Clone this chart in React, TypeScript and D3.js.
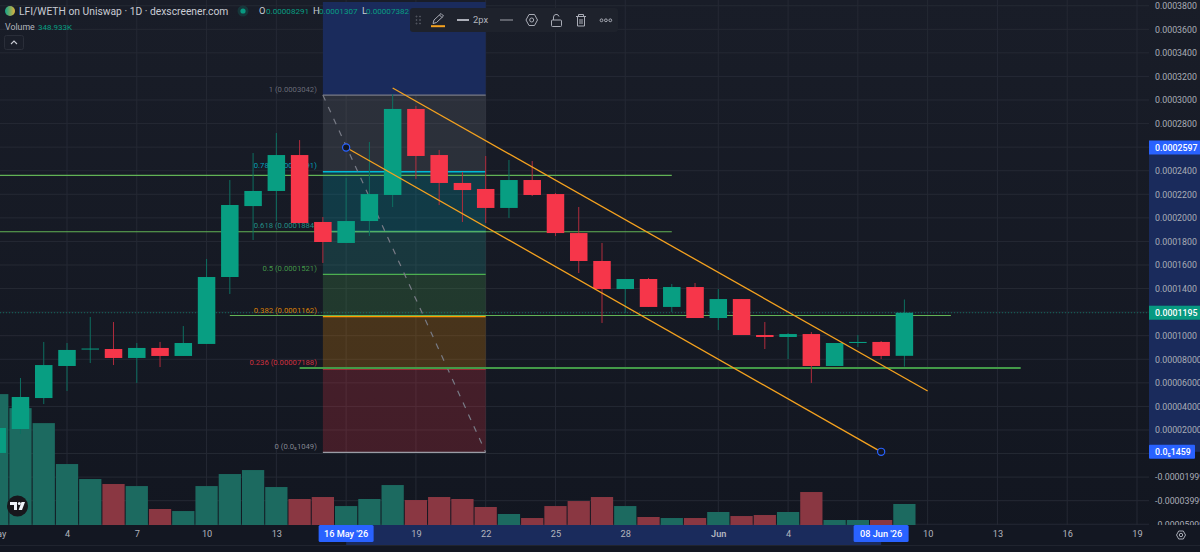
import { useRef, useEffect } from 'react'
import * as d3 from 'd3'

// prices are in units of 0.0001 WETH, volumes in K
const days = [
  '2026-05-01', '2026-05-02', '2026-05-03', '2026-05-04', '2026-05-05', '2026-05-06', '2026-05-07', '2026-05-08',
  '2026-05-09', '2026-05-10', '2026-05-11', '2026-05-12', '2026-05-13', '2026-05-14', '2026-05-15', '2026-05-16',
  '2026-05-17', '2026-05-18', '2026-05-19', '2026-05-20', '2026-05-21', '2026-05-22', '2026-05-23', '2026-05-24',
  '2026-05-25', '2026-05-26', '2026-05-27', '2026-05-28', '2026-05-29', '2026-05-30', '2026-05-31', '2026-06-01',
  '2026-06-02', '2026-06-03', '2026-06-04', '2026-06-05', '2026-06-06', '2026-06-07', '2026-06-08', '2026-06-09',
]
const opens = [
  0.005, 0.208, 0.471, 0.743, 0.887, 0.887, 0.811, 0.896, 0.828, 0.93, 1.498, 2.1, 2.228, 2.533, 1.965, 1.787,
  1.973, 2.194, 2.924, 2.533, 2.296, 2.245, 2.084, 2.321, 2.202, 1.871, 1.634, 1.396, 1.481, 1.244, 1.413, 1.15,
  1.311, 1.006, 0.989, 1.014, 0.743, 0.938, 0.947, 0.8291,
]
const highs = [
  0.24, 0.641, 0.947, 0.938, 1.159, 1.116, 0.938, 0.947, 1.082, 1.651, 2.321, 2.55, 2.72, 2.66, 2.007, 2.338,
  2.644, 3.051, 2.949, 2.576, 2.389, 2.525, 2.491, 2.482, 2.211, 2.092, 1.787, 1.481, 1.49, 1.439, 1.447, 1.396,
  1.311, 1.116, 1.023, 1.031, 0.938, 1.006, 0.955, 1.307,
]
const lows = [
  0.0, 0.166, 0.42, 0.531, 0.768, 0.751, 0.599, 0.734, 0.828, 0.93, 1.354, 1.812, 1.973, 1.956, 1.617, 1.787,
  1.846, 2.092, 2.33, 2.109, 1.965, 1.956, 1.999, 2.185, 1.846, 1.532, 1.108, 1.193, 1.244, 1.201, 1.15, 1.048,
  1.006, 0.887, 0.802, 0.599, 0.743, 0.904, 0.802, 0.7382,
]
const closes = [
  0.217, 0.48, 0.751, 0.879, 0.891, 0.811, 0.896, 0.828, 0.938, 1.498, 2.109, 2.228, 2.533, 1.956, 1.795, 1.973,
  2.202, 2.924, 2.525, 2.296, 2.236, 2.084, 2.321, 2.194, 1.871, 1.634, 1.396, 1.481, 1.244, 1.413, 1.15, 1.311,
  1.006, 0.989, 1.014, 0.743, 0.938, 0.947, 0.828, 1.195,
]
const volumes = [
  2175, 1942, 1693, 1013, 764, 681, 647, 266, 232, 647, 847, 913, 631, 432, 465, 315, 432, 664, 415, 465, 432, 299,
  183, 116, 315, 398, 465, 315, 133, 116, 116, 216, 149, 166, 216, 548, 83, 83, 83, 348.933,
]

const priceTicks = [3.8, 3.6, 3.4, 3.2, 3.0, 2.8, 2.4, 2.2, 2.0, 1.8, 1.6, 1.4, 1.0, 0.8, 0.6, 0.4, 0.2, -0.2, -0.4, -0.6]
const priceLabels = [
  '0.0003800', '0.0003600', '0.0003400', '0.0003200', '0.0003000', '0.0002800', '0.0002400', '0.0002200', '0.0002000',
  '0.0001800', '0.0001600', '0.0001400', '0.0001000', '0.00008000', '0.00006000', '0.00004000', '0.00002000',
  '-0.00001999', '-0.00003999', '-0.00005999',
]
const gridPrices = [3.8, 3.6, 3.4, 3.2, 3.0, 2.8, 2.6, 2.4, 2.2, 2.0, 1.8, 1.6, 1.4, 1.2, 1.0, 0.8, 0.6, 0.4, 0.2, 0, -0.2, -0.4, -0.6]

const gridDays = [
  '2026-05-01', '2026-05-04', '2026-05-07', '2026-05-10', '2026-05-13', '2026-05-16', '2026-05-19', '2026-05-22',
  '2026-05-25', '2026-05-28', '2026-06-01', '2026-06-04', '2026-06-07', '2026-06-10', '2026-06-13', '2026-06-16', '2026-06-19',
]
// 16 May and 7 Jun sit under the crosshair date boxes, so they are left out here
const timeTicks = [
  '2026-05-01', '2026-05-04', '2026-05-07', '2026-05-10', '2026-05-13', '2026-05-19', '2026-05-22',
  '2026-05-25', '2026-05-28', '2026-06-01', '2026-06-04', '2026-06-10', '2026-06-13', '2026-06-16', '2026-06-19',
]
const timeLabels = ['May', '4', '7', '10', '13', '19', '22', '25', '28', 'Jun', '4', '10', '13', '16', '19']

const fibRatios = ['1', '0.786', '0.618', '0.5', '0.382', '0.236', '0']
const fibPrices = [3.042, 2.391, 1.884, 1.521, 1.162, 0.7188, 0.01049]
const fibTexts = ['0.0003042', '0.0002391', '0.0001884', '0.0001521', '0.0001162', '0.00007188', '0.0\u20851049']
const fibColors = ['#787b86', '#00bcd4', '#26a69a', '#4caf50', '#ff9800', '#f23645', '#9a9ca5']
const fibFills = ['#787b86', '#00acc1', '#26a69a', '#4caf50', '#ff9800', '#f23645']

const GREEN = '#089e82'
const RED = '#f6364a'
const ORANGE = '#f5a21f'

export default function App() {
  const svgRef = useRef<SVGSVGElement>(null)

  useEffect(() => {
    if (!svgRef.current) return
    document.body.style.margin = '0'
    const svg = d3.select(svgRef.current)
    svg.selectAll('*').remove()

    const width = 1200
    const height = 552
    const axisX = 1149
    const axisY = 525
    const font = 'Roboto, sans-serif'

    const parse = d3.utcParse('%Y-%m-%d')
    const d = (s: string) => parse(s) as Date
    const x = d3.scaleUtc().domain([d('2026-05-04'), d('2026-06-19')]).range([67, 1137])
    const y = d3.scaleLinear().domain([1, 3]).range([335.7, 100])
    const vol = d3.scaleLinear().domain([0, 348.933]).range([axisY, 504])

    const defs = svg.append('defs')
    const bg = defs.append('linearGradient').attr('id', 'bg').attr('x1', 0).attr('x2', 0).attr('y1', 0).attr('y2', 1)
    bg.append('stop').attr('offset', '0%').attr('stop-color', '#191d28')
    bg.append('stop').attr('offset', '100%').attr('stop-color', '#121620')
    const coin = defs.append('linearGradient').attr('id', 'coin')
    coin.append('stop').attr('offset', '0%').attr('stop-color', '#10a58c')
    coin.append('stop').attr('offset', '100%').attr('stop-color', '#e0b13c')
    defs.append('clipPath').attr('id', 'paxis').append('rect').attr('x', axisX).attr('width', width - axisX).attr('height', axisY)

    svg.append('rect').attr('width', width).attr('height', height).attr('fill', 'url(#bg)')

    // Grid
    const grid = svg.append('g').attr('stroke', '#252934').attr('stroke-width', 1)
    grid.selectAll('.h').data(gridPrices).join('line')
      .attr('class', 'h')
      .attr('x1', 0).attr('x2', axisX).attr('y1', (p) => y(p)).attr('y2', (p) => y(p))
    grid.selectAll('.v').data(gridDays).join('line')
      .attr('class', 'v')
      .attr('x1', (t) => x(d(t))).attr('x2', (t) => x(d(t))).attr('y1', 0).attr('y2', axisY)

    // Highlight of the selected drawing on the chart
    svg.append('rect').attr('x', x(d('2026-05-15'))).attr('width', x(d('2026-05-22')) - x(d('2026-05-15')))
      .attr('y', 2).attr('height', y(fibPrices[0]) - 2).attr('fill', '#1a2b5c')

    // Volume
    const bandW = x(d('2026-05-05')) - x(d('2026-05-04'))
    svg.append('g').selectAll('rect').data(days).join('rect')
      .attr('x', (t) => x(d(t)) - bandW / 2 + 0.5)
      .attr('width', bandW - 1)
      .attr('y', (_, i) => vol(volumes[i]))
      .attr('height', (_, i) => axisY - vol(volumes[i]))
      .attr('fill', (_, i) => (closes[i] >= opens[i] ? '#1c6a60' : '#8a3742'))

    // Fibonacci retracement
    const fibX1 = x(d('2026-05-15'))
    const fibX2 = x(d('2026-05-22'))
    const fib = svg.append('g')
    fib.selectAll('.band').data(fibFills).join('rect')
      .attr('class', 'band')
      .attr('x', fibX1).attr('width', fibX2 - fibX1)
      .attr('y', (_, i) => y(fibPrices[i]))
      .attr('height', (_, i) => y(fibPrices[i + 1]) - y(fibPrices[i]))
      .attr('fill', (c) => c).attr('fill-opacity', 0.22)
    fib.selectAll('.level').data(fibPrices).join('line')
      .attr('class', 'level')
      .attr('x1', fibX1).attr('x2', fibX2)
      .attr('y1', (p) => y(p)).attr('y2', (p) => y(p))
      .attr('stroke', (_, i) => fibColors[i]).attr('stroke-width', 1.3)
    fib.selectAll('text').data(fibPrices).join('text')
      .attr('x', fibX1 - 6).attr('y', (p) => y(p) - 3.5)
      .attr('text-anchor', 'end').attr('font-family', font).attr('font-size', 7.7)
      .attr('fill', (_, i) => fibColors[i]).attr('fill-opacity', 0.85)
      .text((_, i) => `${fibRatios[i]} (${fibTexts[i]})`)
    svg.append('line')
      .attr('x1', fibX1).attr('y1', y(fibPrices[0])).attr('x2', fibX2).attr('y2', y(fibPrices[6]))
      .attr('stroke', '#787b86').attr('stroke-width', 1.2).attr('stroke-dasharray', '6,7')

    // Last price line
    svg.append('line').attr('x1', 0).attr('x2', axisX).attr('y1', y(1.195)).attr('y2', y(1.195))
      .attr('stroke', '#0b7c6b').attr('stroke-width', 0.8).attr('stroke-dasharray', '1,2')

    // Horizontal support and resistance lines
    const hLines = [
      { p: 2.36, a: '2026-04-30', b: '2026-05-30', w: 1.1, c: '#62b355' },
      { p: 1.882, a: '2026-04-30', b: '2026-05-30', w: 1.1, c: '#62b355' },
      { p: 1.171, a: '2026-05-11', b: '2026-06-11', w: 1.1, c: '#62b355' },
      { p: 0.726, a: '2026-05-14', b: '2026-06-14', w: 1.8, c: '#439a48' },
    ]
    svg.append('g').selectAll('line').data(hLines).join('line')
      .attr('x1', (l) => x(d(l.a))).attr('x2', (l) => x(d(l.b)))
      .attr('y1', (l) => y(l.p)).attr('y2', (l) => y(l.p))
      .attr('stroke', (l) => l.c).attr('stroke-width', (l) => l.w)

    // Candles
    const candles = svg.append('g')
    candles.selectAll('line').data(days).join('line')
      .attr('x1', (t) => x(d(t))).attr('x2', (t) => x(d(t)))
      .attr('y1', (_, i) => y(highs[i])).attr('y2', (_, i) => y(lows[i]))
      .attr('stroke', (_, i) => (closes[i] >= opens[i] ? '#0d6f60' : '#b02c3d')).attr('stroke-width', 1)
    candles.selectAll('rect').data(days).join('rect')
      .attr('x', (t) => x(d(t)) - 8.75).attr('width', 17.5)
      .attr('y', (_, i) => y(Math.max(opens[i], closes[i])))
      .attr('height', (_, i) => Math.max(1, Math.abs(y(opens[i]) - y(closes[i]))))
      .attr('fill', (_, i) => (closes[i] >= opens[i] ? GREEN : RED))

    // Trend channel
    const trends = [
      { a: '2026-05-18', pa: 3.102, b: '2026-06-10', pb: 0.531 },
      { a: '2026-05-16', pa: 2.597, b: '2026-06-08', pb: 0.01459 },
    ]
    svg.append('g').selectAll('line').data(trends).join('line')
      .attr('x1', (l) => x(d(l.a))).attr('y1', (l) => y(l.pa))
      .attr('x2', (l) => x(d(l.b))).attr('y2', (l) => y(l.pb))
      .attr('stroke', ORANGE).attr('stroke-width', 1.3)
    svg.append('g').selectAll('circle').data(trends.slice(1).flatMap((l) => [
      { t: l.a, p: l.pa }, { t: l.b, p: l.pb },
    ])).join('circle')
      .attr('cx', (h) => x(d(h.t))).attr('cy', (h) => y(h.p)).attr('r', 3.6)
      .attr('fill', '#131722').attr('stroke', '#2962ff').attr('stroke-width', 1.2)

    // Price axis
    svg.append('rect').attr('x', axisX).attr('y', y(2.597)).attr('width', width - axisX)
      .attr('height', y(0.01459) - y(2.597)).attr('fill', '#1a2b5c')
    const priceG = svg.append('g').attr('clip-path', 'url(#paxis)').append('g')
      .attr('transform', `translate(${axisX},0)`)
      .call(d3.axisRight(y).tickValues(priceTicks).tickSize(0).tickPadding(6)
        .tickFormat((_, i) => priceLabels[i]))
    priceG.select('.domain').remove()
    priceG.selectAll('text').attr('font-family', font).attr('font-size', 8.8).attr('fill', '#a9acb6')

    const priceBox = (p: number, label: string, fill: string, w: number, rx: number) => {
      svg.append('rect').attr('x', axisX).attr('y', y(p) - 7).attr('width', w).attr('height', 14)
        .attr('fill', fill).attr('rx', rx)
      svg.append('text').attr('x', axisX + 6).attr('y', y(p)).attr('dy', '0.35em')
        .attr('font-family', font).attr('font-size', 8.8).attr('font-weight', 500)
        .attr('fill', '#fff').text(label)
    }
    priceBox(2.597, '0.0002597', '#2962ff', width - axisX, 0)
    priceBox(1.195, '0.0001195', '#089981', width - axisX, 0)
    priceBox(0.01459, '0.0\u20851459', '#2962ff', 46, 1)

    // Time axis
    svg.append('rect').attr('x', 0).attr('y', axisY).attr('width', width).attr('height', height - axisY).attr('fill', '#131722')
    svg.append('rect').attr('x', x(d('2026-05-16'))).attr('y', axisY)
      .attr('width', x(d('2026-06-08')) - x(d('2026-05-16'))).attr('height', 20.5).attr('fill', '#1a2b5c')
    svg.append('line').attr('x1', 0).attr('x2', width).attr('y1', 545.5).attr('y2', 545.5).attr('stroke', '#20242f')
    const timeG = svg.append('g').attr('transform', `translate(0,${axisY})`)
      .call(d3.axisBottom(x).tickValues(timeTicks.map(d)).tickSize(0).tickPadding(5)
        .tickFormat((_, i) => timeLabels[i]))
    timeG.select('.domain').remove()
    timeG.selectAll('text').attr('font-family', font).attr('font-size', 9.2)
      .attr('fill', '#b2b5be').attr('font-weight', (_, i) => (timeLabels[i] === 'Jun' ? 600 : 400))

    const timeBox = (t: string, label: string) => {
      svg.append('rect').attr('x', x(d(t)) - 27.5).attr('y', axisY).attr('width', 55).attr('height', 17)
        .attr('rx', 1.5).attr('fill', '#2962ff')
      svg.append('text').attr('x', x(d(t))).attr('y', axisY + 8.5).attr('dy', '0.35em').attr('text-anchor', 'middle')
        .attr('font-family', font).attr('font-size', 9.2).attr('font-weight', 500)
        .attr('fill', '#fff').text(label)
    }
    timeBox('2026-05-16', "16 May '26")
    timeBox('2026-06-08', "08 Jun '26")

    // Settings glyph on the axis corner
    svg.append('path').attr('d', 'M1176.5 535 L1178.7 531 H1183.3 L1185.5 535 L1183.3 539 H1178.7 Z')
      .attr('fill', 'none').attr('stroke', '#a9acb6').attr('stroke-width', 1)
    svg.append('circle').attr('cx', 1181).attr('cy', 535).attr('r', 1.7).attr('fill', 'none').attr('stroke', '#a9acb6')

    // Legend
    const text = (tx: number, ty: number, s: string, fill: string, size = 9.4) =>
      svg.append('text').attr('x', tx).attr('y', ty).attr('dy', '0.35em').attr('font-family', font)
        .attr('font-size', size).attr('fill', fill).text(s)
    svg.append('circle').attr('cx', 10).attr('cy', 11).attr('r', 5).attr('fill', 'url(#coin)')
    text(19, 11, 'LFI/WETH on Uniswap \u00b7 1D \u00b7 dexscreener.com', '#c9ccd4', 10.3)
    svg.append('circle').attr('cx', 243).attr('cy', 11).attr('r', 5.5).attr('fill', '#089981').attr('fill-opacity', 0.2)
    svg.append('circle').attr('cx', 243).attr('cy', 11).attr('r', 2.6).attr('fill', '#089981')
    text(259, 11, 'O', '#c9ccd4')
    text(266, 11, '0.00008291', GREEN, 8.1)
    text(313, 11, 'H', '#c9ccd4')
    text(319, 11, '0.0001307', GREEN, 8.1)
    text(362, 11, 'L', '#c9ccd4')
    text(366, 11, '0.00007382', GREEN, 8.1)
    text(5, 27, 'Volume', '#b2b5be', 8.8)
    text(38, 27, '348.933K', GREEN, 8)
    svg.append('rect').attr('x', 4.5).attr('y', 35.5).attr('width', 19).attr('height', 14).attr('rx', 2)
      .attr('fill', '#1a1e29').attr('stroke', '#2a2e39')
    svg.append('path').attr('d', 'M11 44 L14 41 L17 44').attr('fill', 'none').attr('stroke', '#c9ccd4').attr('stroke-width', 1.1)

    // TradingView badge
    svg.append('circle').attr('cx', 17.5).attr('cy', 506).attr('r', 10.5).attr('fill', '#17171c')
    svg.append('path').attr('d', 'M10 502 H17 V510 H14 V505 H10 Z M21.5 502 H25 L22 510 H18.6 Z').attr('fill', '#f0f3fa')
    svg.append('circle').attr('cx', 19.3).attr('cy', 503.5).attr('r', 1.5).attr('fill', '#f0f3fa')

    // Drawing toolbar
    svg.append('rect').attr('x', 410).attr('y', 8).attr('width', 208).attr('height', 24).attr('rx', 3).attr('fill', '#1e222c')
    const bar = svg.append('g').attr('fill', 'none').attr('stroke', '#a9acb6').attr('stroke-width', 1)
    d3.range(3).forEach((i) => {
      bar.append('circle').attr('cx', 416.5).attr('cy', 16.5 + i * 3.5).attr('r', 0.5).attr('stroke', '#5d606b')
      bar.append('circle').attr('cx', 420).attr('cy', 16.5 + i * 3.5).attr('r', 0.5).attr('stroke', '#5d606b')
    })
    bar.append('path').attr('d', 'M433 23.5 L434 20 L441 13.5 L443.5 16 L436.5 22.5 Z M439.5 15 L442 17.5')
    bar.append('rect').attr('x', 431).attr('y', 25.2).attr('width', 14).attr('height', 2).attr('fill', ORANGE).attr('stroke', 'none')
    bar.append('line').attr('x1', 457).attr('x2', 469).attr('y1', 20).attr('y2', 20).attr('stroke', '#d1d4dc').attr('stroke-width', 1.6)
    bar.append('line').attr('x1', 500).attr('x2', 513).attr('y1', 20).attr('y2', 20).attr('stroke', '#9598a1').attr('stroke-width', 1.1)
    bar.append('path').attr('d', 'M526 20 L529 14.5 H534.5 L537.5 20 L534.5 25.5 H529 Z')
    bar.append('circle').attr('cx', 531.7).attr('cy', 20).attr('r', 2)
    bar.append('rect').attr('x', 551.5).attr('y', 20).attr('width', 10).attr('height', 6.5).attr('rx', 1)
    bar.append('path').attr('d', 'M553.5 20 V17 A2.8 2.8 0 0 1 559 16.5')
    bar.append('path').attr('d', 'M576 16.5 H586 M578.5 16.5 V14.5 H583.5 V16.5 M577.5 16.5 V26 H584.5 V16.5 M580 19 V24 M582 19 V24')
    d3.range(3).forEach((i) => bar.append('circle').attr('cx', 601.5 + i * 4.4).attr('cy', 20.3).attr('r', 1.4))
    text(473, 20, '2px', '#b2b5be', 9.4)
  }, [])

  return <svg ref={svgRef} width={1200} height={552} style={{ display: 'block', position: 'absolute', left: 0, top: 0 }} />
}
